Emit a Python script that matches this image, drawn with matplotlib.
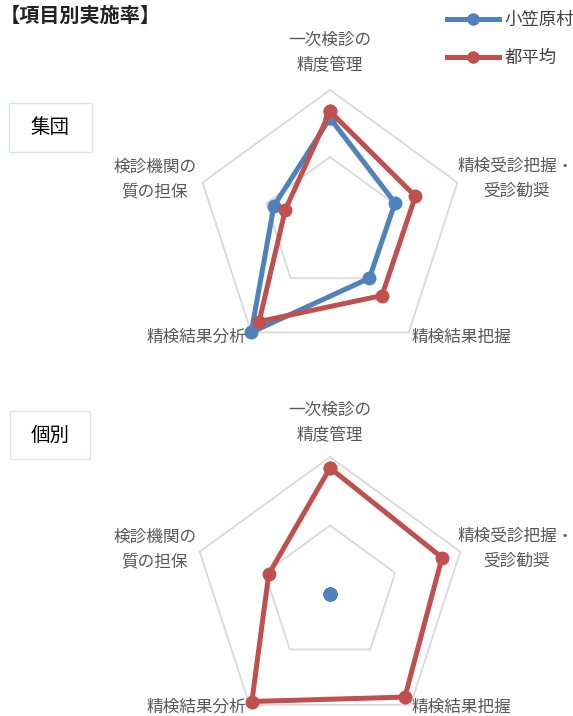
import numpy as np
import matplotlib
matplotlib.use("Agg")
import matplotlib.pyplot as plt
from matplotlib.patches import Rectangle
from matplotlib.lines import Line2D

plt.rcParams['font.family'] = ['Noto Sans CJK JP', 'DejaVu Sans']

# data
categories = ["一次検診の\n精度管理", "精検受診把握・\n受診勧奨", "精検結果把握",
              "精検結果分析", "検診機関の\n質の担保"]
series_names = ["小笠原村", "都平均"]
group_village = [0.79, 0.51, 0.50, 1.00, 0.44]
group_tokyo = [0.84, 0.67, 0.66, 0.90, 0.35]
indiv_village = [0.0, 0.0, 0.0, 0.0, 0.0]
indiv_tokyo = [0.92, 0.86, 0.93, 0.97, 0.47]
grid_levels = [0.5, 1.0]
panel_names = ["集団", "個別"]

BLUE = "#4F81BD"
RED = "#C0504D"
GRID = "#D9D9D9"
LABEL = "#595959"

W, H = 573, 716
fig = plt.figure(figsize=(W / 100, H / 100), dpi=100)


def fx(x):
    return x / W


def fy(y):
    return 1 - y / H


def radar(cx, cy, R, village, tokyo):
    ax = fig.add_axes([fx(cx - R), fy(cy + R), 2 * R / W, 2 * R / H], projection="polar")
    ax.set_theta_offset(np.pi / 2)
    ax.set_theta_direction(-1)
    ax.set_ylim(0, 1)
    ax.grid(False)
    ax.set_xticks([])
    ax.set_yticks([])
    ax.spines["polar"].set_visible(False)
    ax.patch.set_alpha(0)
    n = len(categories)
    theta = np.linspace(0, 2 * np.pi, n, endpoint=False)
    tc = np.append(theta, theta[0])
    for lv in grid_levels:
        ax.plot(tc, [lv] * (n + 1), color=GRID, lw=1.3, zorder=1, clip_on=False)
    for vals, col in [(village, BLUE), (tokyo, RED)]:
        v = np.append(vals, vals[0])
        ax.plot(tc, v, color=col, lw=3.6, marker="o", ms=9, zorder=3,
                clip_on=False, solid_joinstyle="round")
    return ax


radar(330, 224, 134, group_village, group_tokyo)
radar(330, 594, 137, indiv_village, indiv_tokyo)

# axis labels (pixel positions of text centres)
label_pos = [(330, 53), (516, 179), (461, 337), (196, 337), (155, 180)]
for dy in (0, 370):
    for (x, y), lab in zip(label_pos, categories):
        fig.text(fx(x), fy(y + dy), lab, ha="center", va="center",
                 multialignment="center", fontsize=12, color=LABEL, linespacing=1.6)

# panel boxes
boxes = [(9, 103, 83, 49), (10, 411, 80, 48)]
for (x, y, w, h), name in zip(boxes, panel_names):
    fig.patches.append(Rectangle((fx(x), fy(y + h)), w / W, h / H, transform=fig.transFigure,
                                 fill=False, edgecolor="#DCE4F0", lw=1))
    fig.text(fx(x + w / 2), fy(y + h / 2), name, ha="center", va="center",
             fontsize=14, color="black")

# title
fig.text(fx(0), fy(15), "【項目別実施率】", ha="left", va="center",
         fontsize=14.5, fontweight="bold", color="#222222")

# legend
handles = [Line2D([], [], color=BLUE, lw=3.6, marker="o", ms=8),
           Line2D([], [], color=RED, lw=3.6, marker="o", ms=8)]
fig.legend(handles, series_names, loc="upper left", bbox_to_anchor=(fx(440), fy(4)),
           frameon=False, fontsize=12.5, handlelength=3.0, handletextpad=0.3,
           labelspacing=1.15, labelcolor="#404040", borderaxespad=0)

fig.savefig("out.png", dpi=100)
